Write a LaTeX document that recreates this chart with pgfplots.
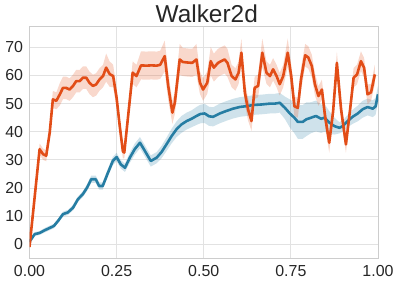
\documentclass[border=0pt]{standalone}
\usepackage{pgfplots}
\pgfplotsset{compat=1.18}
\usepackage{pgfplotstable}
\usepgfplotslibrary{fillbetween}
\usepackage{fontspec}
\setmainfont{Liberation Sans}
\definecolor{cOr}{RGB}{226,77,23}
\definecolor{cBl}{RGB}{38,125,163}
\definecolor{cGrid}{RGB}{226,226,226}
\definecolor{cFrame}{RGB}{205,205,205}
\definecolor{cTxt}{RGB}{38,38,38}

\pgfplotstableread{
x y e
0.000 -1.0 0.5
0.015 17 1
0.029 33.8 2
0.039 32 2
0.048 31.5 2
0.058 39.7 2
0.067 51.5 3
0.077 51 3
0.087 53.3 4
0.096 55.6 4
0.105 55.6 4
0.115 55 4
0.125 56.3 4
0.134 58 4
0.144 58 4
0.153 59.2 4
0.163 59.2 4
0.172 57.4 4
0.182 56.3 4
0.191 56.8 4
0.201 58.6 4
0.211 59.8 4
0.220 62.8 5
0.230 60.5 4.5
0.240 59.8 4
0.250 52 3.5
0.259 42 3
0.268 33 2.5
0.272 32.6 2
0.283 45.6 3
0.296 61 4
0.307 59.8 4
0.320 63.6 5
0.335 63.5 5
0.350 63.6 5
0.365 63.5 5
0.375 63.8 5
0.388 66.9 5.5
0.398 56.3 5
0.410 46.8 4
0.417 50.3 4
0.431 65.7 5.5
0.440 64.8 5
0.455 64.6 5
0.467 64.5 5
0.479 65.7 5.5
0.489 57.5 4
0.498 55 4
0.510 57.4 4
0.520 65.1 5
0.529 62.8 5
0.541 64.5 5
0.550 65.1 5
0.560 65.7 5
0.568 64.5 5
0.580 59.8 4
0.591 58.6 4
0.600 61 4
0.608 68.1 5
0.618 53.9 4
0.627 48 4
0.637 43.8 3.5
0.646 55.6 4
0.656 56.3 4
0.668 68.1 5
0.680 61 4
0.690 59.8 4
0.699 62.2 4
0.709 59.8 4
0.718 56.9 4
0.728 59.8 4
0.741 68.1 5
0.751 59.8 4
0.760 49.1 3.5
0.770 48.5 3.5
0.779 58.6 4
0.791 67.2 4
0.800 66.4 4
0.810 63.4 4
0.819 56.9 4
0.829 52.7 3.5
0.839 55 3.5
0.848 45.6 3.5
0.860 36.1 3.5
0.871 47 3.5
0.882 64.5 4
0.894 48 3.5
0.908 35.5 3
0.920 48 3
0.930 59.2 3.5
0.940 60.4 3.5
0.951 65.1 3.5
0.960 62.8 3.5
0.970 53.3 3.5
0.980 54 3
0.991 60.4 3.5
}\orange

\pgfplotstableread{
x y e
0.000 0.9 0.5
0.015 3.6 0.7
0.029 4 0.7
0.044 5 0.8
0.058 5.8 0.8
0.070 6.5 0.8
0.082 8.3 0.8
0.096 10.7 0.9
0.110 11.3 0.9
0.125 13 1
0.139 16 1
0.153 17.8 1
0.165 20.1 1.2
0.177 23.1 1.3
0.190 23.1 1.3
0.200 20.7 1.3
0.210 20.7 1.3
0.225 25.4 1.4
0.239 29.6 1.5
0.250 31 1.5
0.262 28.4 1.5
0.274 27.2 1.5
0.288 30.8 1.8
0.302 33.8 2
0.317 36.1 2
0.331 33.2 2
0.348 29.6 2
0.365 30.8 2
0.379 32.8 2.2
0.393 35.5 2.4
0.408 38.5 2.6
0.422 40.9 2.8
0.436 42.6 3
0.451 43.8 3
0.465 44.6 3
0.479 45.6 3.2
0.490 46.3 3.3
0.503 46.5 3.4
0.515 45.5 3.4
0.527 45.3 3.4
0.546 46.5 3.5
0.565 47.4 3.5
0.584 48.2 3.5
0.603 48.8 3.5
0.623 49.1 3.5
0.642 49.5 3.5
0.666 49.7 3.5
0.690 50 3.5
0.704 50 3.5
0.718 50.3 3.5
0.733 48.5 4
0.747 46.5 5
0.760 45 5.5
0.770 43.5 6
0.784 43.5 6
0.794 44.4 6
0.808 45 5.5
0.822 45.6 5.5
0.837 44.6 5
0.846 45 5
0.861 43.2 4
0.875 42 3
0.889 41.4 2
0.899 42 2
0.913 43.8 2.2
0.927 45.3 2.5
0.942 46.5 2.8
0.956 48 3
0.970 48.8 3
0.985 48.2 3
0.993 49 3
1.000 53.3 3
}\blue

\begin{document}
\begin{tikzpicture}
\begin{axis}[
  name=ax,
  scale only axis,
  width=348.5bp, height=232.3bp,
  xmin=0, xmax=1, ymin=-5, ymax=77.6,
  xtick={0,0.25,0.5,0.75,1},
  ytick={0,10,...,70},
  /pgf/number format/assume math mode=true,
  ticklabel style={font=\fontsize{16}{18}\selectfont, text=cTxt, inner sep=0pt},
  xticklabel style={anchor=north, yshift=-6.5bp, /pgf/number format/fixed, /pgf/number format/fixed zerofill, /pgf/number format/precision=2},
  yticklabel style={anchor=east, xshift=-6.2bp},
  major tick length=0pt,
  grid=major,
  major grid style={draw=cGrid, line width=0.9bp},
  axis line style={draw=cFrame, line width=0.9bp},
  title={Walker2d},
  every axis title shift=0pt,
  title style={font=\fontsize{24.5}{28}\selectfont, text=cTxt, at={(0.5,1)}, anchor=base, yshift=3.3bp, xshift=3bp, inner sep=0pt},
]
\addplot[draw=none, name path=bu, forget plot] table[x=x, y expr=\thisrow{y}+\thisrow{e}] {\blue};
\addplot[draw=none, name path=bl, forget plot] table[x=x, y expr=\thisrow{y}-\thisrow{e}] {\blue};
\addplot[fill=cBl, fill opacity=0.22, draw=none] fill between[of=bu and bl];
\addplot[draw=none, name path=ou, forget plot] table[x=x, y expr=\thisrow{y}+\thisrow{e}] {\orange};
\addplot[draw=none, name path=ol, forget plot] table[x=x, y expr=\thisrow{y}-\thisrow{e}] {\orange};
\addplot[fill=cOr, fill opacity=0.22, draw=none] fill between[of=ou and ol];
\addplot[cBl, line width=2.6bp, line join=round] table[x=x, y=y] {\blue};
\addplot[cOr, line width=2.6bp, line join=round] table[x=x, y=y] {\orange};
\end{axis}
\path ([shift={(-29.5bp,-26.7bp)}]ax.south west) rectangle ([shift={(21bp,26bp)}]ax.north east);
\end{tikzpicture}
\end{document}
